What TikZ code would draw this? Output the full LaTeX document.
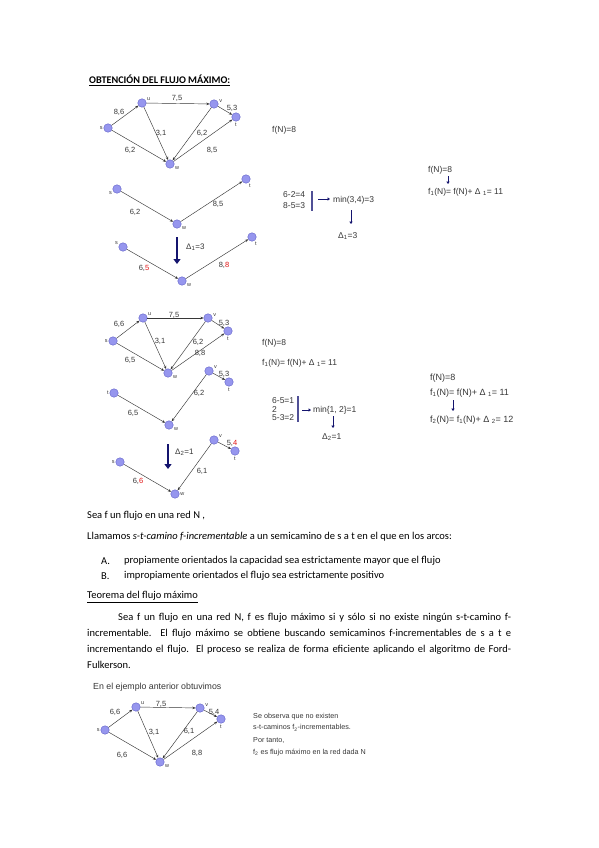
\documentclass[tikz,border=0pt]{standalone}
\usepackage{fontspec}
\setmainfont{Carlito}
\newfontfamily\arialf{Liberation Sans}
\usetikzlibrary{arrows.meta}
\definecolor{NodeBlue}{RGB}{150,150,238}
\definecolor{NodeEdge}{RGB}{95,95,200}
\definecolor{DarkNavy}{RGB}{20,20,110}
\definecolor{BarBlue}{RGB}{80,80,150}
\definecolor{ArcGray}{RGB}{55,55,55}
\definecolor{DigitRed}{RGB}{225,20,20}

\begin{document}
\begin{tikzpicture}[x=1pt,y=-1pt,
    vx/.style={circle,draw=NodeEdge,fill=NodeBlue,minimum size=8.5pt,inner sep=0pt,line width=0.4pt},
    nl/.style={font=\arialf\fontsize{5.5}{6}\selectfont,inner sep=0.8pt,text=ArcGray},
    arc/.style={ArcGray,line width=0.45pt,-{Stealth[length=3.2pt,width=2.6pt]}},
    el/.style={font=\arialf\fontsize{7.5}{8}\selectfont,inner sep=0pt,text=ArcGray},
    calc/.style={font=\arialf\fontsize{8.5}{9}\selectfont,inner sep=0pt,anchor=west,text=ArcGray},
    calcr/.style={calc,font=\arialf\fontsize{9}{10}\selectfont},
    bigarrow/.style={DarkNavy,line width=2.4pt,-{Triangle[length=5pt,width=7pt]}},
    smallarrow/.style={DarkNavy,line width=0.8pt,-{Triangle[length=2.5pt,width=3.2pt]}},
    bar/.style={BarBlue,line width=1.4pt},
    body/.style={font=\fontsize{10.5}{12}\selectfont,inner sep=0pt,anchor=west}
  ]
  \useasboundingbox[fill=white] (0,0) rectangle (599,848);
  \newcommand{\rd}[1]{\textcolor{DigitRed}{#1}}

  % Title
  \node[body,font=\bfseries\fontsize{10.2}{11}\selectfont] (title) at (89,80) {\underline{OBTENCIÓN DEL FLUJO MÁXIMO:}};

  % --- Red N con el flujo inicial ---
  \node[vx,label={[nl]left:s}]   (s1) at (108,128) {};
  \node[vx,label={[nl]20:u}]     (u1) at (142,103) {};
  \node[vx,label={[nl]10:v}]     (v1) at (214,104) {};
  \node[vx,label={[nl]below:t}]  (t1) at (236,117) {};
  \node[vx,label={[nl]-20:w}]    (w1) at (170,164) {};
  \foreach \a/\b in {s1/u1,u1/v1,u1/w1,v1/w1,v1/t1,w1/t1,s1/w1}
    \draw[arc] (\a) -- (\b);
  \foreach \x/\y/\lbl [count=\i] in {119/112/8{,}6, 177/98/7{,}5, 161/133/3{,}1, 202/133/6{,}2,
                                      232/108/5{,}3, 212/150/8{,}5, 130/150/6{,}2}
    \node[el] (ea\i) at (\x,\y) {\lbl};
  \node[calc] (fn1) at (272,130) {f(N)=8};

  % --- Semicamino s-w-t ---
  \node[vx,label={[nl]-160:s}] (s2) at (117,189) {};
  \node[vx,label={[nl]-20:w}]  (w2) at (177,224) {};
  \node[vx,label={[nl]-60:t}]  (t2) at (246,179) {};
  \draw[arc] (s2) -- (w2);
  \draw[arc] (w2) -- (t2);
  \node[el] (eb1) at (135,212) {6,2};
  \node[el] (eb2) at (218,204) {8,5};

  \coordinate (d1a) at (177,237);
  \coordinate (d1b) at (177,264);
  \draw[bigarrow] (d1a) -- (d1b);
  \node[calc,font=\arialf\fontsize{8}{9}\selectfont] (del1) at (186,247) {Δ\textsubscript{1}=3};

  % --- Semicamino incrementado ---
  \node[vx,label={[nl]160:s}] (s3) at (123,247) {};
  \node[vx,label={[nl]-20:w}] (w3) at (182,281) {};
  \node[vx,label={[nl]-60:t}] (t3) at (252,237) {};
  \draw[arc] (s3) -- (w3);
  \draw[arc] (w3) -- (t3);
  \node[el] (ec1) at (144,268) {6,\rd{5}};
  \node[el] (ec2) at (224,265) {8,\rd{8}};

  % calculo de Delta 1
  \node[calc] (r1a) at (283,195) {6-2=4};
  \node[calc] (r1b) at (283,206) {8-5=3};
  \coordinate (b1a) at (312,191);
  \coordinate (b1b) at (312,211);
  \draw[bar] (b1a) -- (b1b);
  \coordinate (h1a) at (318,199);
  \coordinate (h1b) at (330,199);
  \draw[smallarrow] (h1a) -- (h1b);
  \node[calc] (min1) at (333,200) {min(3,4)=3};
  \coordinate (v1a) at (351,210);
  \coordinate (v1b) at (351,224);
  \draw[smallarrow] (v1a) -- (v1b);
  \node[calc] (dd1) at (338,236) {Δ\textsubscript{1}=3};

  \node[calc] (fa1) at (428,170) {f(N)=8};
  \coordinate (fv1a) at (448,176);
  \coordinate (fv1b) at (448,184);
  \draw[smallarrow] (fv1a) -- (fv1b);
  \node[calc] (fb1) at (428,192) {f\textsubscript{1}(N)= f(N)+ Δ \textsubscript{1}= 11};

  % --- Red N con f1 ---
  \node[vx,label={[nl]left:s}]  (s4) at (113,341) {};
  \node[vx,label={[nl]20:u}]    (u4) at (143,318) {};
  \node[vx,label={[nl]10:v}]    (v4) at (208,318) {};
  \node[vx,label={[nl]below:t}] (t4) at (228,331) {};
  \node[vx,label={[nl]-20:w}]   (w4) at (168,373) {};
  \foreach \a/\b in {s4/u4,u4/v4,u4/w4,v4/w4,v4/t4,w4/t4,s4/w4}
    \draw[arc] (\a) -- (\b);
  \foreach \x/\y/\lbl [count=\i] in {119/324/6{,}6, 174/315/7{,}5, 160/341/3{,}1, 198/342/6{,}2,
                                      224/323/5{,}3, 200/353/8{,}8, 130/360/6{,}5}
    \node[el] (ed\i) at (\x,\y) {\lbl};
  \node[calc] (fn2) at (262,343) {f(N)=8};
  \node[calc] (fn3) at (262,363) {f\textsubscript{1}(N)= f(N)+ Δ \textsubscript{1}= 11};

  % --- Semicamino s-w-v-t ---
  \node[vx,label={[nl]left:t}]  (s5) at (114,393) {};
  \node[vx,label={[nl]-20:w}]   (w5) at (169,425) {};
  \node[vx,label={[nl]20:v}]    (v5) at (209,371) {};
  \node[vx,label={[nl]below:t}] (t5) at (229,382) {};
  \draw[arc] (s5) -- (w5);
  \draw[arc] (v5) -- (w5);
  \draw[arc] (v5) -- (t5);
  \node[el] (ee1) at (133,413) {6,5};
  \node[el] (ee2) at (199,393) {6,2};
  \node[el] (ee3) at (224,374) {5,3};

  \coordinate (d2a) at (168,444);
  \coordinate (d2b) at (168,469);
  \draw[bigarrow] (d2a) -- (d2b);
  \node[calc,font=\arialf\fontsize{8}{9}\selectfont] (del2) at (175,452) {Δ\textsubscript{2}=1};

  % --- Semicamino incrementado ---
  \node[vx,label={[nl]left:s}]  (s6) at (120,462) {};
  \node[vx,label={[nl]0:w}]     (w6) at (175,494) {};
  \node[vx,label={[nl]20:v}]    (v6) at (214,440) {};
  \node[vx,label={[nl]below:t}] (t6) at (235,451) {};
  \draw[arc] (s6) -- (w6);
  \draw[arc] (v6) -- (w6);
  \draw[arc] (v6) -- (t6);
  \node[el] (ef1) at (138,481) {6,\rd{6}};
  \node[el] (ef2) at (202,471) {6,1};
  \node[el] (ef3) at (232,443) {5,\rd{4}};

  % calculo de Delta 2
  \node[calc] (r2a) at (272,401) {6-5=1};
  \node[calc] (r2b) at (272,409.5) {2};
  \node[calc] (r2c) at (272,418) {5-3=2};
  \coordinate (b2a) at (298,396);
  \coordinate (b2b) at (298,422);
  \draw[bar] (b2a) -- (b2b);
  \coordinate (h2a) at (302,410);
  \coordinate (h2b) at (311,410);
  \draw[smallarrow] (h2a) -- (h2b);
  \node[calc] (min2) at (313,410) {min\{1, 2\}=1};
  \coordinate (v2a) at (333,416);
  \coordinate (v2b) at (333,428);
  \draw[smallarrow] (v2a) -- (v2b);
  \node[calc] (dd2) at (322,437) {Δ\textsubscript{2}=1};

  \node[calcr] (fa2) at (430,378) {f(N)=8};
  \node[calcr] (fb2) at (430,393) {f\textsubscript{1}(N)= f(N)+ Δ \textsubscript{1}= 11};
  \coordinate (fv2a) at (453,400);
  \coordinate (fv2b) at (453,411);
  \draw[smallarrow] (fv2a) -- (fv2b);
  \node[calcr] (fc2) at (430,420) {f\textsubscript{2}(N)= f\textsubscript{1}(N)+ Δ \textsubscript{2}= 12};

  % Texto
  \node[body] (p1) at (87,516) {Sea f un flujo en una red N ,};
  \node[body] (p2) at (87,537) {Llamamos \textit{s-t-camino f-incrementable} a un semicamino de s a t en el que en los arcos:};
  \node[body] (la) at (101,561) {A.};
  \node[body] (pa) at (124,561) {propiamente orientados la capacidad sea estrictamente mayor que el flujo};
  \node[body] (lb) at (101,576) {B.};
  \node[body] (pb) at (124,576) {impropiamente orientados el flujo sea estrictamente positivo};
  \node[body] (teo) at (87,597) {\underline{Teorema del flujo máximo}};
  \node[body] (q1) at (118,618) {\makebox[393pt][s]{Sea f un flujo en una red N, f es flujo máximo si y sólo si no existe ningún s-t-camino f-}};
  \node[body] (q2) at (87,634) {\makebox[424pt][s]{incrementable. El flujo máximo se obtiene buscando semicaminos f-incrementables de s a t e}};
  \node[body] (q3) at (87,650) {\makebox[424pt][s]{incrementando el flujo. El proceso se realiza de forma eficiente aplicando el algoritmo de Ford-}};
  \node[body] (q4) at (87,665) {Fulkerson.};

  % --- Ejemplo: flujo maximo ---
  \node[calc,font=\arialf\fontsize{8.8}{9}\selectfont] (ej) at (93,687) {En el ejemplo anterior obtuvimos};
  \node[vx,label={[nl]left:s}]  (s7) at (105,730) {};
  \node[vx,label={[nl]20:u}]    (u7) at (136,707) {};
  \node[vx,label={[nl]10:v}]    (v7) at (200,708) {};
  \node[vx,label={[nl]below:t}] (t7) at (221,719) {};
  \node[vx,label={[nl]-20:w}]   (w7) at (160,762) {};
  \foreach \a/\b in {s7/u7,u7/v7,u7/w7,v7/w7,v7/t7,w7/t7,s7/w7}
    \draw[arc] (\a) -- (\b);
  \foreach \x/\y/\lbl [count=\i] in {115/712/6{,}6, 161/704/7{,}5, 154/732/3{,}1, 189/731/6{,}1,
                                      214/712/5{,}4, 197/753/8{,}8, 122/755/6{,}6}
    \node[el] (eg\i) at (\x,\y) {\lbl};
  \node[font=\arialf\fontsize{7.2}{11.5}\selectfont,align=left,anchor=north west,inner sep=0pt,text=ArcGray] (concl) at (253,713)
    {Se observa que no existen\\s-t-caminos f\textsubscript{2}-incrementables.\\[1.5pt]Por tanto,\\f\textsubscript{2} es flujo máximo en la red dada N};
\end{tikzpicture}
\end{document}
